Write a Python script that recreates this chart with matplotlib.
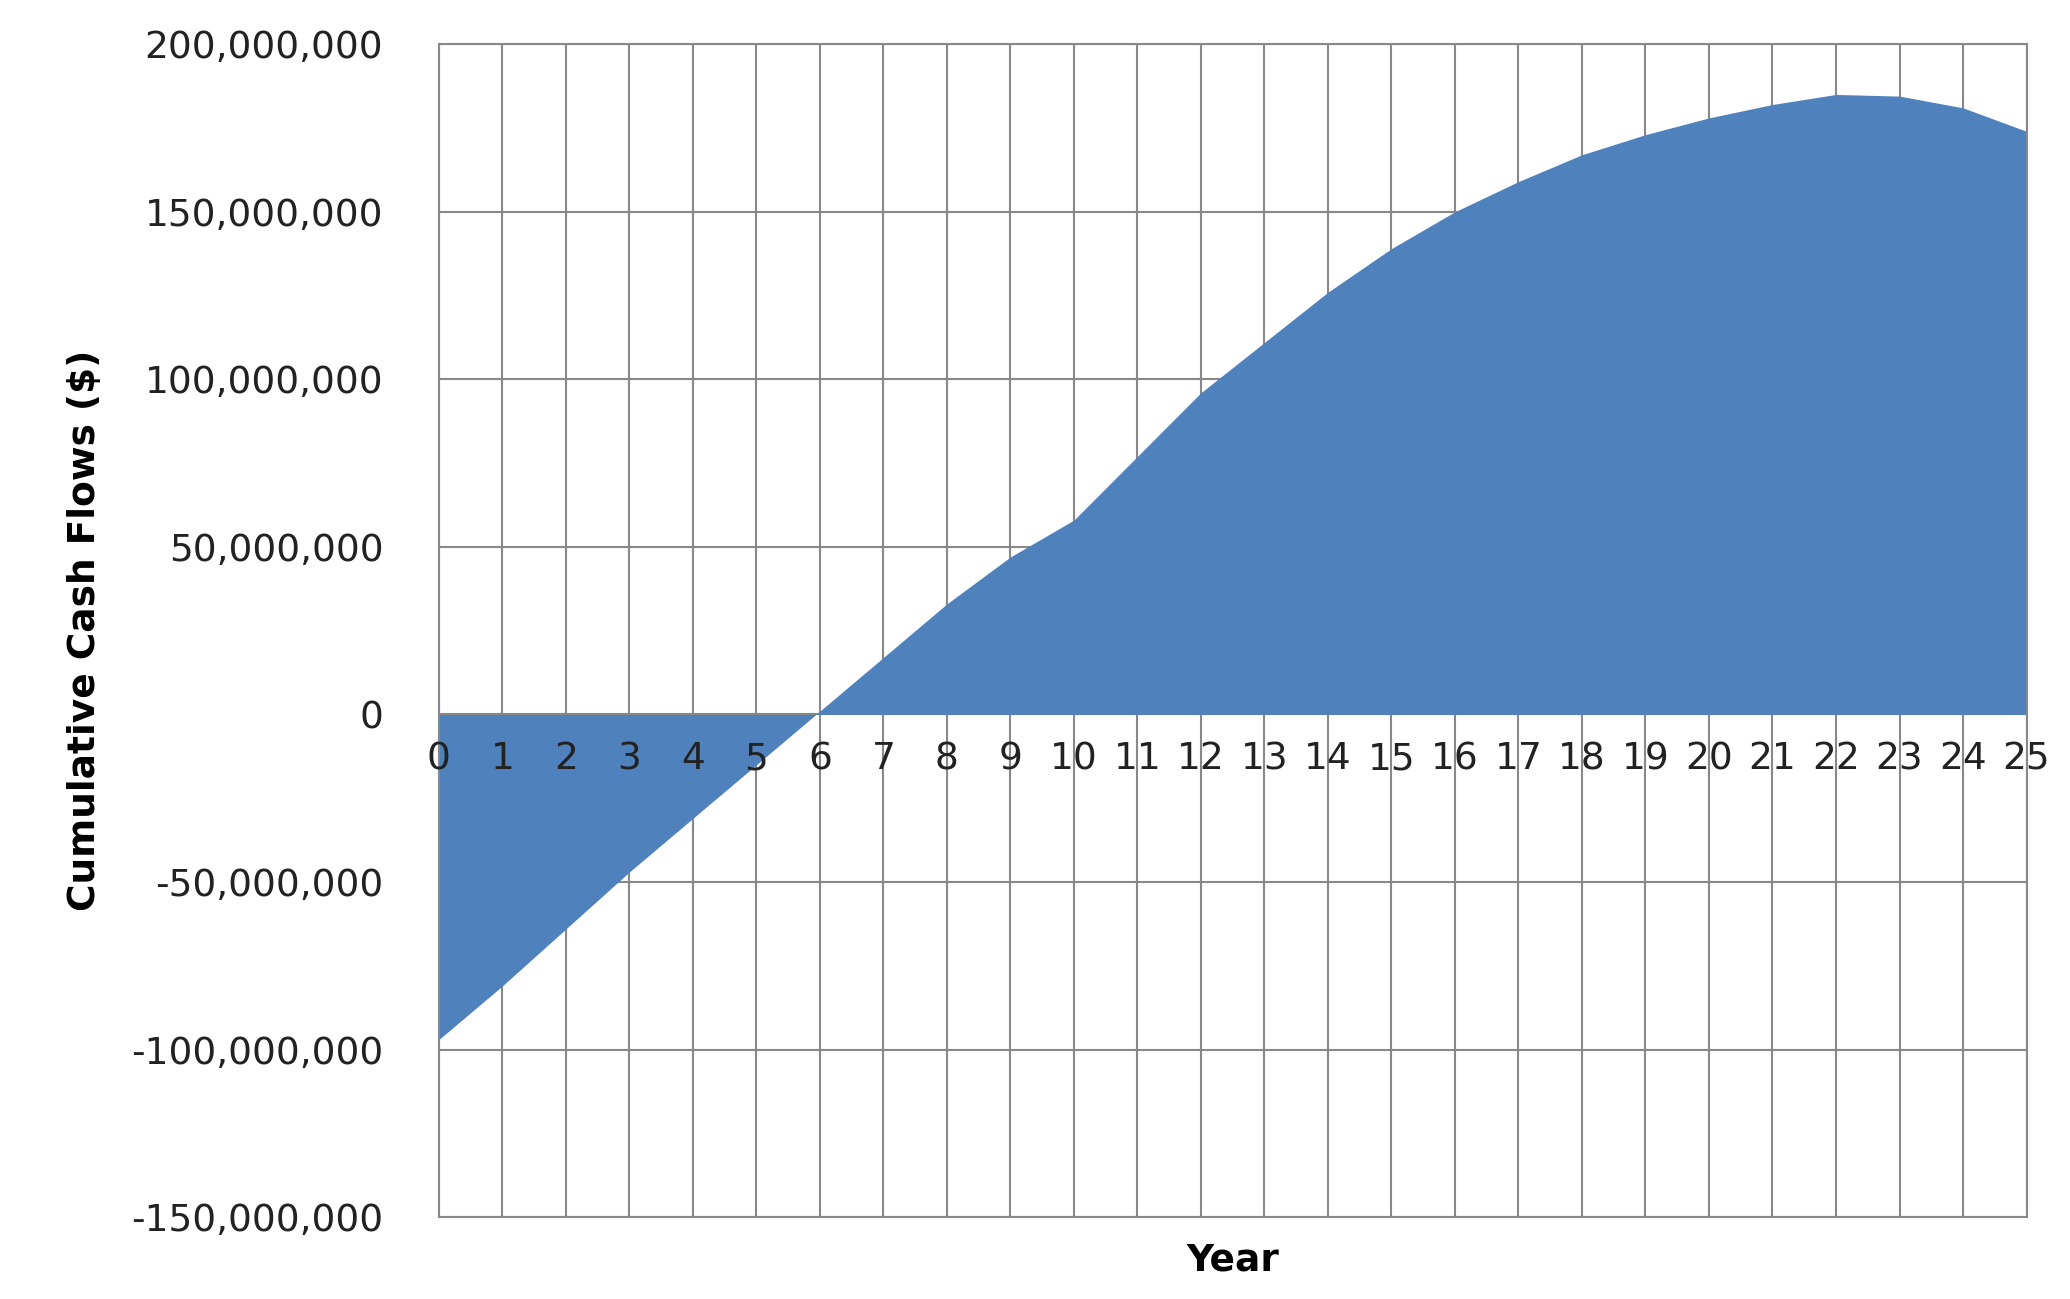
import numpy as np
from matplotlib import pyplot as plt
from matplotlib.ticker import FuncFormatter

years = list(range(0, 26))
cumulative = [-97e6, -81e6, -64e6, -47e6, -31e6, -15e6, 1e6, 17e6, 33e6, 47e6,
              58e6, 77e6, 96e6, 111e6, 126e6, 139e6, 150e6, 159e6, 167e6, 173e6,
              178e6, 182e6, 185e6, 184.5e6, 181e6, 174e6]

fig = plt.figure(figsize=(20.7, 12.99), dpi=100)
ax = fig.add_axes([0.212, 0.063, 0.767, 0.903])

ax.fill_between(years, cumulative, 0, color="#4F81BD", linewidth=0, zorder=2)

ax.set_xlim(0, 25)
ax.set_ylim(-150e6, 200e6)
ax.set_yticks(np.arange(-150e6, 200e6 + 1, 50e6))
ax.yaxis.set_major_formatter(FuncFormatter(lambda v, p: f"{v:,.0f}"))
ax.set_xticks(years)
ax.set_xticklabels([])
ax.tick_params(axis="x", length=0)
ax.tick_params(axis="y", length=0, labelsize=27, pad=40, colors="#222222")
ax.grid(True, color="#888888", linewidth=1.5, zorder=1)
for s in ax.spines.values():
    s.set_color("#888888")
    s.set_linewidth(1.5)

for y in years:
    ax.text(y, -8e6, str(y), ha="center", va="top", fontsize=27, color="#222222", zorder=3)

ax.set_xlabel("Year", fontsize=27, fontweight="bold", labelpad=15)
ax.set_ylabel("Cumulative Cash Flows ($)", fontsize=27, fontweight="bold", labelpad=20)

fig.savefig("out.png", dpi=100)
